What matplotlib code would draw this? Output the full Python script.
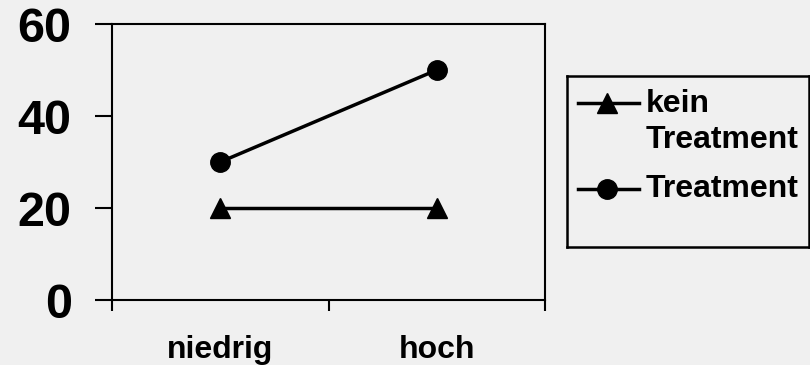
import matplotlib.pyplot as plt
from matplotlib.lines import Line2D

# Werte je Gruppe
gruppen = ["niedrig", "hoch"]
kein_treatment = [20, 20]
treatment = [30, 50]
y_ticks = [0, 20, 40, 60]
labels = ["kein\nTreatment", "Treatment"]

plt.rcParams['font.family'] = ['Liberation Sans', 'DejaVu Sans']
plt.rcParams['font.weight'] = 'bold'

bg = '#f0f0f0'
fig = plt.figure(figsize=(8.1, 3.65), dpi=100, facecolor=bg)
W, H = 810, 365

ax = fig.add_axes([112 / W, 1 - 300 / H, 433 / W, 276 / H])
ax.set_facecolor(bg)

x = [i + 0.5 for i in range(len(gruppen))]
ax.plot(x, kein_treatment, color='black', lw=2.5, marker='^', ms=15,
        clip_on=False, zorder=3)
ax.plot(x, treatment, color='black', lw=2.5, marker='o', ms=14,
        clip_on=False, zorder=3)

ax.set_xlim(0, len(gruppen))
ax.set_ylim(0, 60)

# Kategorieachse: Striche an den Grenzen, Beschriftung in der Mitte
ax.set_xticks(range(len(gruppen) + 1))
ax.set_xticklabels([])
ax.set_xticks(x, minor=True)
ax.set_xticklabels(gruppen, minor=True, fontsize=23, fontweight='bold')
ax.tick_params(axis='x', which='major', direction='out', length=8, width=1.5)
ax.tick_params(axis='x', which='minor', length=0, pad=25)

ax.set_yticks(y_ticks)
ax.set_yticklabels([str(v) for v in y_ticks], fontsize=35, fontweight='bold')
ax.tick_params(axis='y', direction='out', length=12, width=1.5, pad=17)

for s in ax.spines.values():
    s.set_linewidth(1.5)
    s.set_color('black')

# Legende als eigener Kasten
lax = fig.add_axes([567 / W, 1 - 247 / H, 242 / W, 171 / H])
lax.set_facecolor(bg)
lax.set_xlim(0, 242)
lax.set_ylim(171, 0)
lax.set_xticks([])
lax.set_yticks([])
for s in lax.spines.values():
    s.set_linewidth(1.8)
    s.set_color('black')

entries = [('^', 15, 27, 46), ('o', 14, 113, 113)]
for (m, ms, yl, yt), lab in zip(entries, labels):
    lax.add_line(Line2D([11, 72], [yl, yl], color='black', lw=2.5))
    lax.plot([40], [yl], marker=m, ms=ms, color='black', clip_on=False)
    lax.text(79, yt, lab, fontsize=23, fontweight='bold', va='center',
             ha='left', linespacing=1.25)

fig.savefig('out.png', dpi=100, facecolor=bg)
